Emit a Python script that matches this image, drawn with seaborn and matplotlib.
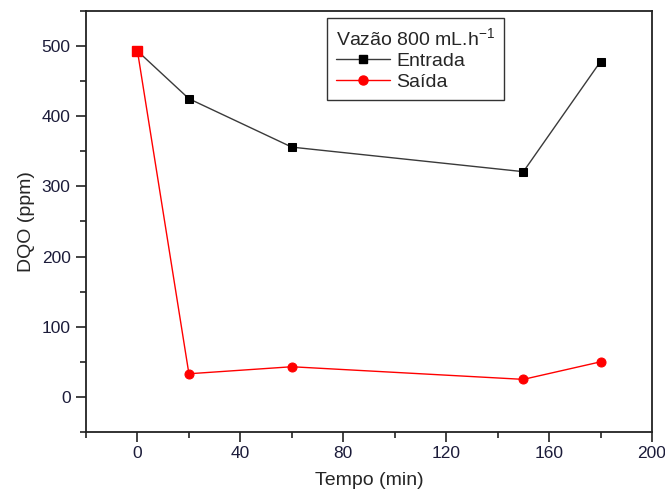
import matplotlib
matplotlib.use("Agg")
import matplotlib.pyplot as plt
from matplotlib.ticker import MultipleLocator
from matplotlib.lines import Line2D
import seaborn as sns
import pandas as pd

tempo = [0, 20, 60, 150, 180]
entrada = [493, 425, 356, 321, 478]
saida = [493, 33, 43, 25, 50]

sns.set_style("ticks")
plt.rcParams["font.family"] = ["Liberation Sans", "DejaVu Sans"]
plt.rcParams["mathtext.default"] = "regular"

df_e = pd.DataFrame({"Tempo": tempo, "DQO": entrada})
df_s = pd.DataFrame({"Tempo": tempo, "DQO": saida})

fig = plt.figure(figsize=(6.65, 4.9), dpi=100)
ax = fig.add_axes([86 / 665, 1 - 432 / 490, (652 - 86) / 665, (432 - 11) / 490])

sns.lineplot(data=df_e, x="Tempo", y="DQO", ax=ax, color="#3a3a3a", lw=1.0,
             marker="s", markersize=6, markerfacecolor="black",
             markeredgecolor="black", zorder=3)
sns.lineplot(data=df_s, x="Tempo", y="DQO", ax=ax, color="red", lw=1.0,
             marker="o", markersize=6.5, markerfacecolor="red",
             markeredgecolor="red", zorder=4)
# starting point of the outlet series shares the inlet value
ax.plot(tempo[0], saida[0], marker="s", ms=7, color="red", ls="none", zorder=5)

ax.set_xlim(-20, 200)
ax.set_ylim(-50, 550)
ax.xaxis.set_major_locator(MultipleLocator(40))
ax.xaxis.set_minor_locator(MultipleLocator(20))
ax.yaxis.set_major_locator(MultipleLocator(100))
ax.yaxis.set_minor_locator(MultipleLocator(50))
ax.tick_params(which="major", direction="out", length=7, width=1.2,
               labelsize=12.5, colors="#222", labelcolor="#1c1c3a", pad=4)
ax.tick_params(axis="x", which="major", pad=3)
ax.tick_params(which="minor", direction="out", length=4, width=1.2, colors="#222")
ax.tick_params(top=False, right=False)
for s in ax.spines.values():
    s.set_linewidth(1.3)
    s.set_color("#222")
    s.set_visible(True)

ax.set_xlabel("Tempo (min)", fontsize=14, labelpad=8)
ax.set_ylabel("DQO (ppm)", fontsize=14, labelpad=5)

handles = [
    Line2D([], [], color="#3a3a3a", lw=1.0, marker="s", ms=6,
           markerfacecolor="black", markeredgecolor="black"),
    Line2D([], [], color="red", lw=1.0, marker="o", ms=6.5,
           markerfacecolor="red", markeredgecolor="red"),
]
leg = ax.legend(handles, ["Entrada", "Saída"], title="Vazão 800 mL.h$^{-1}$",
                loc="upper left", bbox_to_anchor=((327 - 86) / 566, 1 - (18 - 11) / 421),
                fontsize=14, title_fontsize=14, frameon=True, fancybox=False,
                edgecolor="black", handlelength=2.8, handletextpad=0.3,
                borderpad=0.45, labelspacing=0.18, borderaxespad=0)
leg.get_frame().set_linewidth(1.0)
leg._legend_box.align = "left"

fig.savefig("out.png", dpi=100)
